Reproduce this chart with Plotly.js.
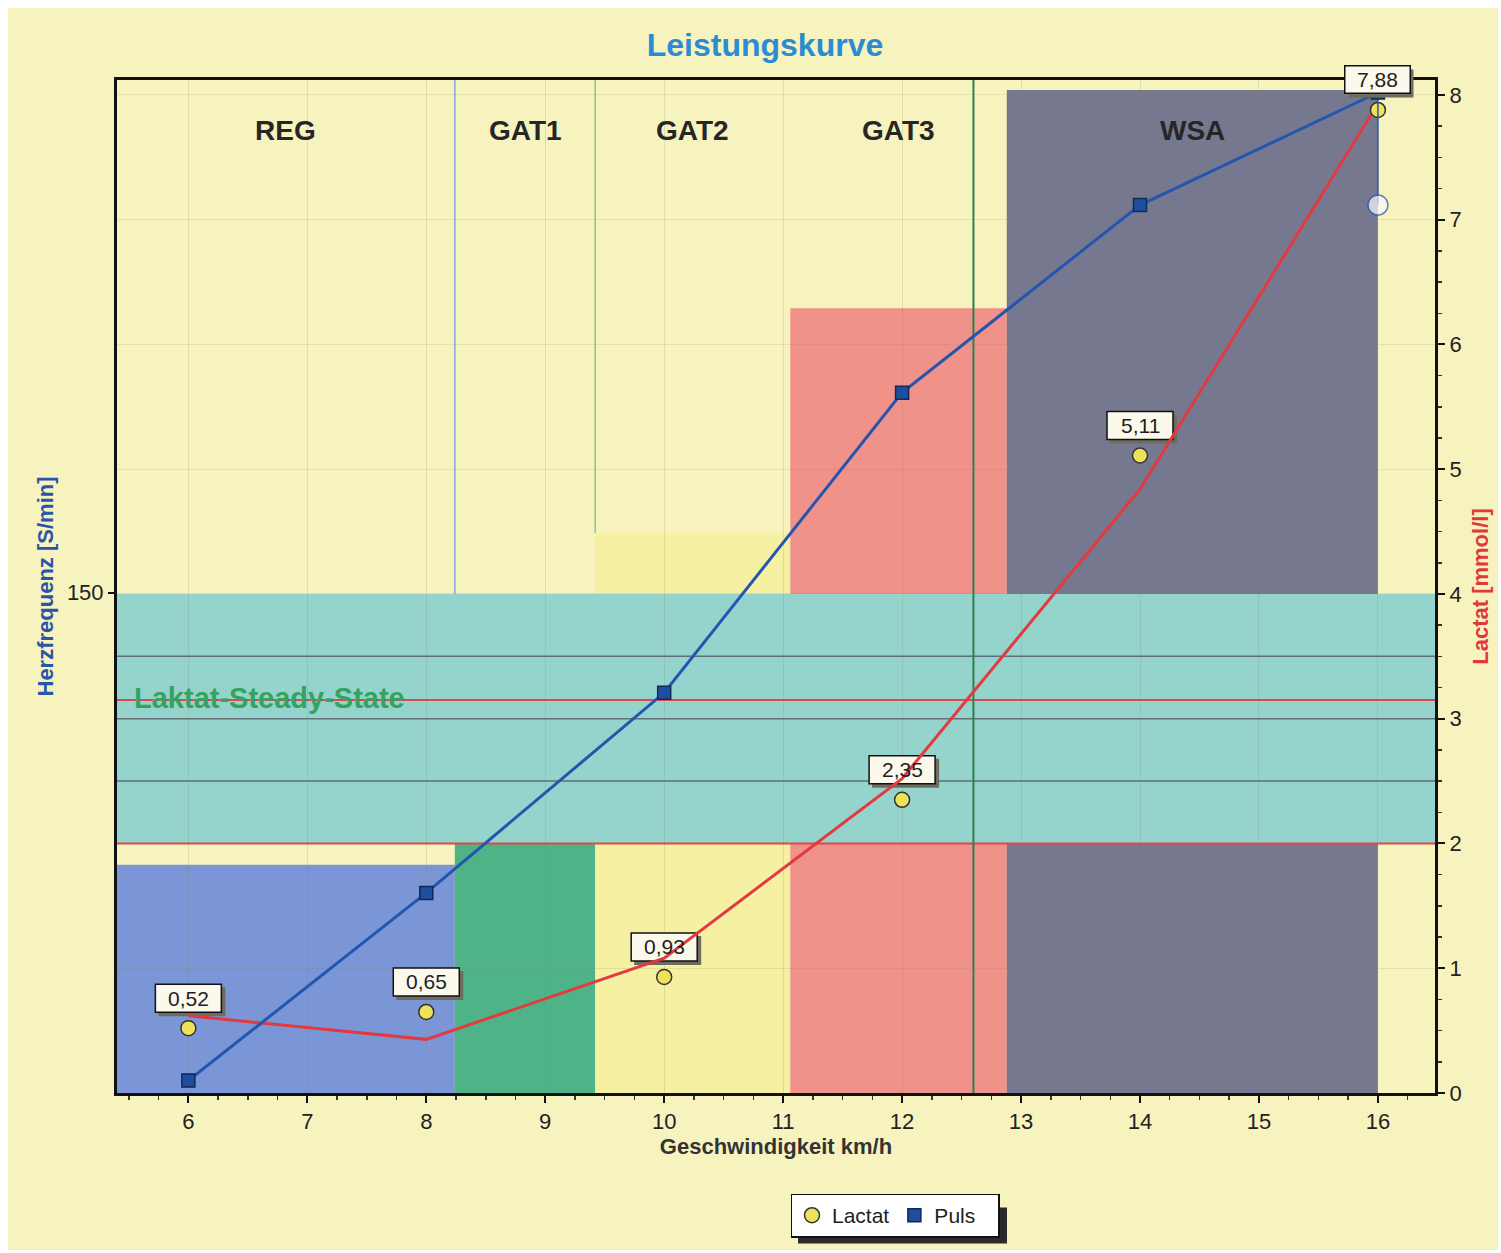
<!DOCTYPE html>
<html>
<head>
<meta charset="utf-8">
<script src="https://cdn.plot.ly/plotly-3.0.1.min.js"></script>
<style>
  html, body { margin: 0; padding: 0; background: #ffffff; }
  #chart { position: absolute; left: 8px; top: 8px; width: 1490px; height: 1242px; }
</style>
</head>
<body>
<div id="chart"></div>
<script>
// ---- data ----
const speed      = [6, 8, 10, 12, 14, 16];            // Geschwindigkeit km/h
const lactat     = [0.52, 0.65, 0.93, 2.35, 5.11, 7.88]; // measured lactate mmol/l
const lactatFit  = [0.62, 0.43, 1.08, 2.52, 4.84, 7.93]; // fitted lactate curve
const puls       = [111, 126, 142, 166, 181, 190];     // heart rate S/min
const pulsEndSpeed = [16, 16];
const pulsEndHR    = [190, 181];

const zoneNames = ['REG', 'GAT1', 'GAT2', 'GAT3', 'WSA'];
const zoneFrom  = [5.4, 8.24, 9.42, 11.06, 12.88];
const zoneTo    = [8.24, 9.42, 11.06, 12.88, 16.0];
const zoneTop   = [1.83, 2.0, 4.49, 6.29, 8.04];

const lssLow = 2, lssHigh = 4;          // Laktat-Steady-State band
const lssGridLines = [2.5, 3.0, 3.5];
const lssRedLines = [2.0, 3.15];
const thresholdSpeed = 12.6;

const xRange = [5.4, 16.48];
const lacRange = [0, 8.12];
const hrRange = [110, 191];
const hrTicks = [150];

// ---- styles ----
const zoneColors = ['#7a96d6', '#4eb487', '#f5f0a2', '#f0918a', '#76788f'];
const FONT = 'Liberation Sans, Arial, Helvetica, sans-serif';
const PLOT_H = 1017;

const fmt = v => v.toFixed(2).replace('.', ',');

const shapes = [];
zoneNames.forEach((n, i) => {
  shapes.push({type: 'rect', xref: 'x', yref: 'y', layer: 'below',
    x0: zoneFrom[i], x1: zoneTo[i], y0: 0, y1: zoneTop[i],
    fillcolor: zoneColors[i], line: {width: 0}});
});
shapes.push({type: 'line', xref: 'x', yref: 'y', layer: 'below',
  x0: zoneFrom[1], x1: zoneFrom[1], y0: lssHigh, y1: lacRange[1],
  line: {color: '#8aa6d6', width: 1.5}});
shapes.push({type: 'line', xref: 'x', yref: 'y', layer: 'below',
  x0: zoneFrom[2], x1: zoneFrom[2], y0: zoneTop[2], y1: lacRange[1],
  line: {color: '#86c48e', width: 1.5}});
shapes.push({type: 'rect', xref: 'x', yref: 'y', layer: 'below',
  x0: xRange[0], x1: xRange[1], y0: lssLow, y1: lssHigh,
  fillcolor: '#94d4cc', line: {width: 0}});
lssGridLines.forEach(v => shapes.push({type: 'line', xref: 'x', yref: 'y', layer: 'below',
  x0: xRange[0], x1: xRange[1], y0: v, y1: v, line: {color: '#5d6e7c', width: 1.5}}));
lssRedLines.forEach(v => shapes.push({type: 'line', xref: 'x', yref: 'y', layer: 'below',
  x0: xRange[0], x1: xRange[1], y0: v, y1: v, line: {color: '#e0474a', width: 2}}));
shapes.push({type: 'line', xref: 'x', yref: 'y', layer: 'below',
  x0: thresholdSpeed, x1: thresholdSpeed, y0: lacRange[0], y1: lacRange[1],
  line: {color: '#2f7f4f', width: 2}});

const annotations = [];

// value label boxes: inside the plot as shapes (under the curves), at the top edge as annotations (not clipped)
speed.forEach((s, i) => {
  const topPx = (lacRange[1] - lactat[i]) * PLOT_H / (lacRange[1] - lacRange[0]);
  if (topPx > 46) {
    shapes.push({type: 'rect', xref: 'x', yref: 'y', layer: 'between',
      xsizemode: 'pixel', ysizemode: 'pixel', xanchor: s, yanchor: lactat[i],
      x0: -30, x1: 37, y0: 12, y1: 41, fillcolor: '#6d6c5e', line: {width: 0}});
    shapes.push({type: 'rect', xref: 'x', yref: 'y', layer: 'between',
      xsizemode: 'pixel', ysizemode: 'pixel', xanchor: s, yanchor: lactat[i],
      x0: -33, x1: 33, y0: 16, y1: 44, fillcolor: '#fbf9ec', line: {color: '#111', width: 1.5}});
  } else {
    annotations.push({xref: 'x', yref: 'y', x: s, y: lactat[i], yshift: 26, xshift: 3,
      text: '', showarrow: false, width: 64, height: 27, bgcolor: '#6d6c5e', borderpad: 0});
    annotations.push({xref: 'x', yref: 'y', x: s, y: lactat[i], yshift: 30,
      text: ' ', showarrow: false, width: 62, height: 24, bgcolor: '#fbf9ec',
      bordercolor: '#111', borderwidth: 1.5, borderpad: 1});
  }
});

// legend shadow
shapes.push({type: 'rect', xref: 'paper', yref: 'paper', layer: 'above',
  x0: (798 - 117) / 1318, x1: (1007 - 117) / 1318,
  y0: (1097 - 1248) / PLOT_H, y1: (1097 - 1212) / PLOT_H,
  fillcolor: '#2b2b2b', line: {width: 0}});

zoneNames.forEach((n, i) => {
  annotations.push({xref: 'x', yref: 'paper', x: (zoneFrom[i] + zoneTo[i]) / 2, y: (1097 - 131) / PLOT_H,
    text: '<b>' + n + '</b>', showarrow: false, xanchor: 'center', yanchor: 'middle',
    font: {family: FONT, size: 28, color: '#262626'}});
});
annotations.push({xref: 'x', yref: 'y', x: 5.53, y: 3.17, xanchor: 'left', yanchor: 'middle',
  text: '<b>Laktat-Steady-State</b>', showarrow: false,
  font: {family: FONT, size: 29, color: '#35a262'}});
speed.forEach((s, i) => {
  annotations.push({xref: 'x', yref: 'y', x: s, y: lactat[i], yshift: 30,
    text: fmt(lactat[i]), showarrow: false, xanchor: 'center', yanchor: 'middle',
    font: {family: FONT, size: 21, color: '#1e1e1e'}});
});

const traces = [
  {x: speed, y: lactatFit, yaxis: 'y', mode: 'lines', showlegend: false, hoverinfo: 'skip',
   line: {color: '#e23a3f', width: 3}},
  {x: pulsEndSpeed, y: pulsEndHR, yaxis: 'y2', mode: 'lines+markers', showlegend: false,
   line: {color: '#2456b0', width: 1.5},
   marker: {size: [0, 20], color: '#f7f8ff', line: {color: '#2456b0', width: 1.5}}},
  {x: speed, y: puls, yaxis: 'y2', mode: 'lines', showlegend: false,
   line: {color: '#2456b0', width: 3}},
  {x: speed, y: lactat, yaxis: 'y', mode: 'markers', name: 'Lactat',
   marker: {symbol: 'circle', size: 15, color: '#ece35a', line: {color: '#333', width: 1.5}}},
  {x: speed, y: puls, yaxis: 'y2', mode: 'markers', name: 'Puls\u00a0\u00a0\u00a0',
   marker: {symbol: 'square', size: 13, color: '#1f4e9e', line: {color: '#0d2a5a', width: 1.5}}}
];

const layout = {
  width: 1490, height: 1242,
  margin: {l: 109, r: 63, t: 72, b: 153},
  paper_bgcolor: '#f7f3bf', plot_bgcolor: '#f7f3bf',
  font: {family: FONT, size: 22, color: '#222'},
  title: {text: '<b>Leistungskurve</b>', x: (765 - 8) / 1490, xanchor: 'center',
          y: 1 - 37 / 1242, yanchor: 'middle', font: {family: FONT, size: 32, color: '#2b8bd3'}},
  xaxis: {range: xRange, tick0: 6, dtick: 1, ticks: 'outside', ticklen: 7, tickwidth: 2,
          tickcolor: '#111', showline: true, linewidth: 3, linecolor: '#111', mirror: true,
          showgrid: true, gridcolor: 'rgba(130,130,90,0.18)', gridwidth: 1, zeroline: false,
          minor: {dtick: 0.25, ticks: 'outside', ticklen: 4, tickwidth: 1.5, tickcolor: '#333', showgrid: false},
          tickfont: {family: FONT, size: 22, color: '#222'},
          title: {text: '<b>Geschwindigkeit km/h</b>', standoff: 6, font: {family: FONT, size: 22, color: '#333'}}},
  yaxis: {range: lacRange, dtick: 1, side: 'right', ticks: 'outside', ticklen: 7, tickwidth: 2,
          tickcolor: '#111', showline: true, linewidth: 3, linecolor: '#111',
          showgrid: true, gridcolor: 'rgba(130,130,90,0.16)', zeroline: false,
          minor: {dtick: 0.25, ticks: 'outside', ticklen: 4, tickwidth: 1.5, tickcolor: '#333', showgrid: false},
          tickfont: {family: FONT, size: 22, color: '#222'},
          title: {text: '<b>Lactat [mmol/l]</b>', standoff: 12, font: {family: FONT, size: 22, color: '#e2373c'}}},
  yaxis2: {range: hrRange, overlaying: 'y', side: 'left', tickvals: hrTicks, ticks: 'outside',
          ticklen: 6, tickwidth: 2, tickcolor: '#111', showline: true, linewidth: 3, linecolor: '#111',
          showgrid: false, zeroline: false,
          tickfont: {family: FONT, size: 22, color: '#222'},
          title: {text: '<b>Herzfrequenz [S/min]</b>', standoff: 8, font: {family: FONT, size: 22, color: '#2a55a8'}}},
  legend: {orientation: 'h', x: (895 - 117) / 1318, xanchor: 'center', y: (1097 - 1220) / PLOT_H, yanchor: 'middle',
           bgcolor: '#ffffff', bordercolor: '#111', borderwidth: 1.5,
           font: {family: FONT, size: 21, color: '#222'}, itemwidth: 30, tracegroupgap: 0},
  shapes: shapes,
  annotations: annotations,
  showlegend: true
};

Plotly.newPlot('chart', traces, layout, {displayModeBar: false, staticPlot: true});
</script>
</body>
</html>
